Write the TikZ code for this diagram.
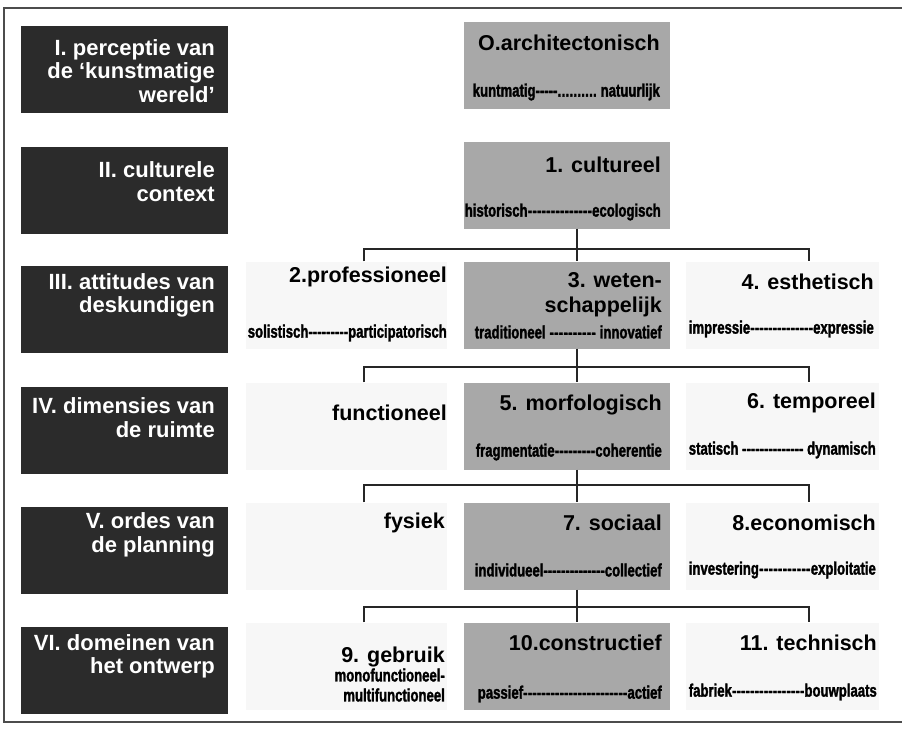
\documentclass[tikz,border=0pt]{standalone}
\usepackage{fontspec}
\setmainfont{Liberation Sans}
\newfontfamily\narrow[FakeStretch=0.73,FakeBold=1.6]{Liberation Sans}
\newcommand\spanline[3]{\hbox to #1pt{#2\xleaders\hbox{-}\hfill#3}}
\begin{document}
\begin{tikzpicture}[x=1pt,y=-1pt,
  level/.style={fill=black!83,minimum width=207pt,minimum height=87pt},
  dim/.style={fill=black!34,minimum width=206pt,minimum height=87pt},
  side/.style={fill=black!3,minimum height=87pt},
  ltxt/.style={text=white,font=\fontsize{22}{23.5}\selectfont\bfseries,align=right,anchor=east,inner sep=0pt},
  ttl/.style={font=\fontsize{21.5}{24.5}\selectfont\bfseries,align=right,anchor=east,inner sep=0pt},
  sub/.style={font=\narrow\fontsize{18}{20}\selectfont\bfseries,align=right,anchor=east,inner sep=0pt},
  link/.style={line width=1.2pt,black!85}]
            \useasboundingbox(0,0)rectangle(902,737);
            \draw[line width=1.5pt,black!70](902,8)--(4,8)--(4,722)--(902,722);
            % niveaus links
            \node[level](n1)at(124.5,69){};\node[level](n2)at(124.5,190){};
            \node[level](n3)at(124.5,309){};\node[level](n4)at(124.5,430){};
            \node[level](n5)at(124.5,550){};\node[level](n6)at(124.5,670){};
            \node[ltxt](n1t)at(215,71){I. perceptie van\\de `kunstmatige\\wereld'};
            \node[ltxt](n2t)at(215,181.5){II. culturele\\context};
            \node[ltxt](n3t)at(215,295.5){III. attitudes van\\deskundigen};
            \node[ltxt](n4t)at(215,417.5){IV. dimensies van\\de ruimte};
            \node[ltxt](n5t)at(215,535){V. ordes van\\de planning};
            \node[ltxt](n6t)at(215,656.5){VI. domeinen van\\het ontwerp};
            % vlakken
            \node[dim](c1)at(567,65){};\node[dim](c2)at(567,185){};
            \node[dim](c3)at(567,305){};\node[dim](c4)at(567,426){};
            \node[dim](c5)at(567,546){};\node[dim](c6)at(567,666){};
            \foreach\i/\y in{3/305,4/426,5/546,6/666}{
              \node[side,minimum width=201pt](l\i)at(346.5,\y){};
              \node[side,minimum width=193pt](r\i)at(782.5,\y){};}
            % takken
            \foreach\a/\b/\y in{2/3/249,3/4/367,4/5/485,5/6/607}{
              \coordinate(j\b)at(577,\y);
              \draw[link](c\a.south-|j\b)--(c\b.north-|j\b);
              \draw[link](l\b.north-|364,\y)|-(j\b)-|(r\b.north-|809,\y);}
            % teksten
            \node[ttl](c1t)at(660,43){O.architectonisch};
            \node[sub](c1s)at(660,92){\hbox to 187pt{kuntmatig-----\xleaders\hbox{.}\hfill\ natuurlijk}};
            \node[ttl](c2t)at(661,165){1. cultureel};
            \node[sub](c2s)at(661,212){\spanline{196}{historisch}{ecologisch}};
            \node[ttl](l3t)at(447,277){2.professioneel};
            \node[sub](l3s)at(447,333){\spanline{199}{solistisch}{participatorisch}};
            \node[ttl](c3t)at(662,294.5){3. weten-\\schappelijk};
            \node[sub](c3s)at(662,332){\spanline{187}{traditioneel\ }{\ innovatief}};
            \node[ttl](r3t)at(874,282){4. esthetisch};
            \node[sub](r3s)at(874,329){\spanline{185}{impressie}{expressie}};
            \node[ttl](l4t)at(447,413){functioneel};
            \node[ttl](c4t)at(662,405){5. morfologisch};
            \node[sub](c4s)at(662,452){\spanline{186}{fragmentatie}{coherentie}};
            \node[ttl](r4t)at(876,403){6. temporeel};
            \node[sub](r4s)at(876,450){\spanline{187}{statisch\ }{\ dynamisch}};
            \node[ttl](l5t)at(445,523){fysiek};
            \node[ttl](c5t)at(662,523){7. sociaal};
            \node[sub](c5s)at(662,570){\spanline{187}{individueel}{collectief}};
            \node[ttl](r5t)at(876,523){8.economisch};
            \node[sub](r5s)at(876,570){\spanline{187}{investering}{exploitatie}};
            \node[ttl](l6t)at(445,657){9. gebruik};
            \node[sub](l6s)at(445,685){monofunctioneel-\\multifunctioneel};
            \node[ttl](c6t)at(662,643){10.constructief};
            \node[sub](c6s)at(662,694){\spanline{184}{passief}{actief}};
            \node[ttl](r6t)at(877,643){11. technisch};
            \node[sub](r6s)at(877,692){\spanline{188}{fabriek}{bouwplaats}};
        \end{tikzpicture}
\end{document}
